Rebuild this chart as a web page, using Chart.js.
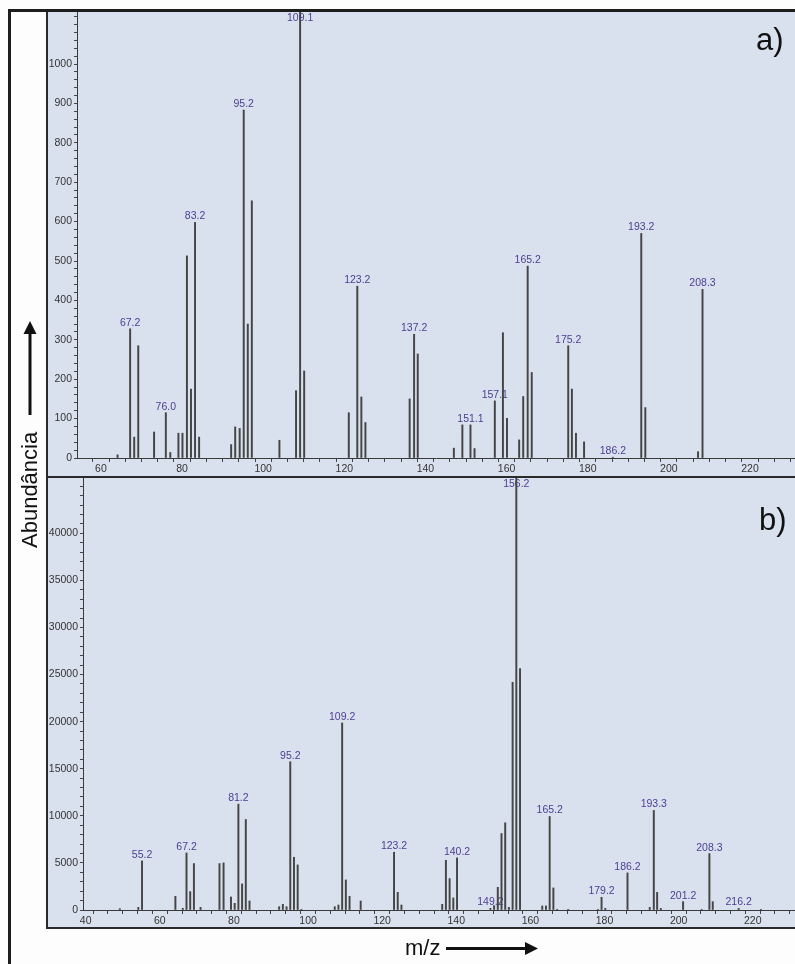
<!DOCTYPE html>
<html lang="pt">
<head>
<meta charset="utf-8">
<title>Espectros de massa</title>
<script src="https://cdn.jsdelivr.net/npm/chart.js@4.4.1/dist/chart.umd.min.js"></script>
<style>
  html, body { margin: 0; padding: 0; }
  body {
    width: 795px; height: 964px; position: relative; overflow: hidden;
    background: #fdfdfd;
  }
  .panel { position: absolute; left: 48px; width: 747px; background: #dae1ee; }
  .panel canvas { display: block; }
  #panelA { top: 12px; height: 464px; }
  #panelB { top: 478px; height: 449px; }
  svg.overlay { position: absolute; left: 0; top: 0; pointer-events: none; }
</style>
</head>
<body>

<div class="panel" id="panelA"><canvas id="specA" width="747" height="464"></canvas></div>
<div class="panel" id="panelB"><canvas id="specB" width="747" height="449"></canvas></div>

<svg class="overlay" width="795" height="964" font-family="'Liberation Sans', Arial, sans-serif">
  <!-- moldura -->
  <rect x="8" y="9" width="787" height="3" fill="#1d1d1d"/>
  <rect x="8" y="9" width="3" height="955" fill="#1d1d1d"/>
  <rect x="46" y="12" width="2" height="917" fill="#2a2a2a"/>
  <rect x="46" y="476" width="749" height="2" fill="#2a2a2a"/>
  <rect x="46" y="927" width="749" height="2" fill="#2a2a2a"/>
  <!-- rótulos dos painéis -->
  <text x="756" y="50" font-size="31" fill="#111">a)</text>
  <text x="759" y="530" font-size="31" fill="#111">b)</text>
  <!-- eixo y -->
  <text transform="translate(37,548) rotate(-90)" font-size="22" fill="#111">Abundância</text>
  <rect x="28.5" y="332" width="3" height="83" fill="#111"/>
  <polygon points="30,321 23.5,334 36.5,334" fill="#111"/>
  <!-- eixo x -->
  <text x="405" y="955" font-size="22" fill="#111">m/z</text>
  <rect x="446" y="947" width="82" height="3" fill="#111"/>
  <polygon points="538,948.5 525,942 525,955" fill="#111"/>
</svg>

<script>
// a) espectro superior
const mzA = [64.1, 67.2, 68.2, 69.2, 73.1, 76.0, 77.1, 79.1, 80.1, 81.2, 82.2, 83.2, 84.2,
  92.1, 93.1, 94.2, 95.2, 96.2, 97.2, 104.0, 108.1, 109.1, 110.1, 121.1, 123.2, 124.2, 125.2,
  136.1, 137.2, 138.1, 147.0, 149.1, 151.1, 152.1, 157.1, 159.1, 160.1, 163.1, 164.1, 165.2,
  166.2, 175.2, 176.1, 177.1, 179.1, 186.2, 193.2, 194.2, 207.2, 208.3];
const abundA = [8, 328, 53, 285, 66, 115, 14, 63, 63, 513, 175, 598, 53,
  34, 79, 75, 883, 340, 653, 45, 171, 1250, 221, 115, 436, 155, 90,
  150, 314, 264, 25, 84, 84, 24, 145, 318, 101, 46, 156, 487,
  217, 285, 175, 63, 41, 2, 570, 128, 16, 428];
const tagA = ["", "67.2", "", "", "", "76.0", "", "", "", "", "", "83.2", "",
  "", "", "", "95.2", "", "", "", "", "109.1", "", "", "123.2", "", "",
  "", "137.2", "", "", "", "151.1", "", "157.1", "", "", "", "", "165.2",
  "", "175.2", "", "", "", "186.2", "193.2", "", "", "208.3"];

// b) espectro inferior
const mzB = [49.2, 54.2, 55.2, 64.2, 66.2, 67.2, 68.2, 69.2, 71.0, 76.1, 77.2, 79.2, 80.2,
  81.2, 82.2, 83.2, 84.2, 92.2, 93.2, 94.2, 95.2, 96.2, 97.2, 98.2, 107.2, 108.2, 109.2,
  110.2, 111.2, 114.2, 123.2, 124.2, 125.2, 136.2, 137.2, 138.2, 139.2, 140.2, 149.2,
  150.2, 151.2, 152.2, 153.2, 154.2, 155.2, 156.2, 157.2, 163.2, 164.2, 165.2, 166.2,
  167.2, 170.2, 178.2, 179.2, 180.2, 186.2, 192.2, 193.3, 194.2, 195.2, 201.2, 206.2,
  208.3, 209.2, 216.2, 222.2];
const abundB = [140, 280, 5210, 1450, 180, 6060, 1950, 4930, 280, 4930, 5000, 1380, 710,
  11240, 2770, 9610, 960, 350, 600, 350, 15740, 5600, 4790, 70, 350, 530, 19860,
  3190, 1450, 960, 6130, 1880, 530, 600, 5280, 3330, 1280, 5530, 180,
  460, 2410, 8120, 9260, 280, 24180, 50000, 25630, 430, 430, 9930, 2340,
  70, 70, 70, 1350, 180, 3940, 280, 10570, 1880, 180, 890, 70,
  5990, 890, 180, 70];
const tagB = ["", "", "55.2", "", "", "67.2", "", "", "", "", "", "", "",
  "81.2", "", "", "", "", "", "", "95.2", "", "", "", "", "", "109.2",
  "", "", "", "123.2", "", "", "", "", "", "", "140.2", "149.2",
  "", "", "", "", "", "", "156.2", "", "", "", "165.2", "",
  "", "", "", "179.2", "", "186.2", "", "193.3", "", "", "201.2", "",
  "208.3", "", "216.2", ""];

const tickFont = { family: "'Liberation Sans', Arial, sans-serif", size: 10.5 };

// rótulos m/z sobre os picos (desenhados por baixo das linhas)
const peakTags = {
  id: "peakTags",
  beforeDatasetsDraw(chart) {
    const { ctx, chartArea, scales } = chart;
    const ds = chart.data.datasets[0];
    ctx.save();
    ctx.font = "10.5px " + tickFont.family;
    ctx.fillStyle = "#4b3e92";
    ctx.textAlign = "center";
    ds.data.forEach((p, i) => {
      const t = ds.tags[i];
      if (!t) return;
      const px = scales.x.getPixelForValue(p.x);
      if (p.y >= scales.y.max) {
        ctx.textBaseline = "top";
        ctx.fillText(t, px, chartArea.top + 1);
      } else {
        ctx.textBaseline = "alphabetic";
        ctx.fillText(t, px, scales.y.getPixelForValue(p.y) - 3);
      }
    });
    ctx.restore();
  }
};

function stepTicks(scale, step) {
  const out = [];
  for (let v = Math.ceil(scale.min / step) * step; v <= scale.max; v += step) {
    out.push({ value: v });
  }
  scale.ticks = out;
}

function drawSpectrum(id, mz, abund, tags, ax) {
  new Chart(document.getElementById(id), {
    type: "bar",
    data: {
      datasets: [{
        data: mz.map((m, i) => ({ x: m, y: abund[i] })),
        tags: tags,
        backgroundColor: "#454545",
        borderWidth: 0,
        barThickness: 1.3
      }]
    },
    options: {
      responsive: false,
      animation: false,
      devicePixelRatio: 1,
      layout: { padding: 0 },
      plugins: { legend: { display: false }, tooltip: { enabled: false } },
      scales: {
        x: {
          type: "linear",
          min: ax.xMin,
          max: ax.xMax,
          offset: false,
          grid: { drawOnChartArea: false, tickLength: 4, color: "#444" },
          border: { color: "#3a3a3a", width: 1 },
          ticks: {
            autoSkip: false, maxRotation: 0, padding: 1, color: "#333", font: tickFont,
            callback: v => (v % 20 === 0 ? String(v) : "")
          },
          afterBuildTicks: s => stepTicks(s, 4),
          afterFit: s => { s.height = ax.xH; s.paddingLeft = 0; s.paddingRight = 0; }
        },
        y: {
          min: 0,
          max: ax.yMax,
          grid: { drawOnChartArea: false, tickLength: 3, color: "#444" },
          border: { color: "#3a3a3a", width: 1 },
          ticks: {
            autoSkip: false, padding: 2, color: "#333", font: tickFont,
            callback: v => (v % ax.yLabel === 0 && v <= ax.yLabelMax ? String(v) : "")
          },
          afterBuildTicks: s => stepTicks(s, ax.yMinor),
          afterFit: s => { s.width = ax.yW; s.paddingTop = 0; s.paddingBottom = 0; }
        }
      }
    },
    plugins: [peakTags]
  });
}

drawSpectrum("specA", mzA, abundA, tagA,
  { xMin: 54.1, xMax: 231.1, xH: 18, yMax: 1132, yW: 29, yMinor: 20, yLabel: 100, yLabelMax: 1000 });
drawSpectrum("specB", mzB, abundB, tagB,
  { xMin: 39.27, xMax: 231.4, xH: 17, yMax: 45870, yW: 35, yMinor: 1000, yLabel: 5000, yLabelMax: 40000 });
</script>
</body>
</html>
